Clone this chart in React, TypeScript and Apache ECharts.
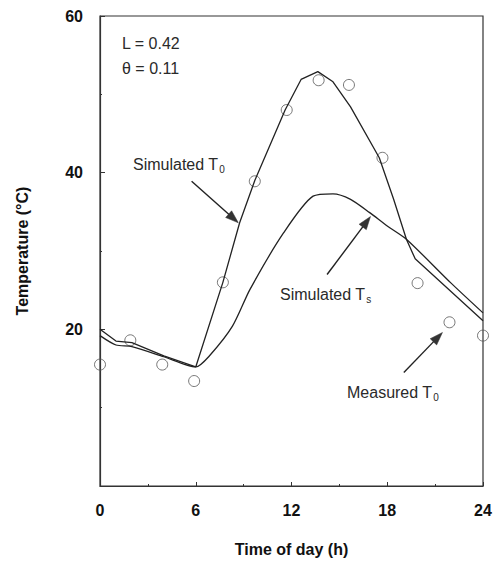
import React, { useEffect, useRef } from "react";
import * as echarts from "echarts";

// Measured T0 (circles)
const measTime = [0, 1.9, 3.9, 5.9, 7.7, 9.7, 11.7, 13.7, 15.6, 17.7, 19.9, 21.9, 24];
const measVal = [15.5, 18.6, 15.5, 13.4, 26.0, 38.9, 48.0, 51.8, 51.2, 41.9, 25.9, 20.9, 19.2];

// Simulated T0
const t0Time = [0, 1, 2, 4, 6, 7.7, 8.75, 9.7, 11.6, 12.6, 13.65, 14.6, 15.7, 17.5, 18.4, 19.2, 19.75, 24];
const t0Val = [20.0, 18.5, 18.3, 16.6, 15.2, 26.0, 33.6, 39.0, 48.0, 51.9, 52.9, 51.6, 48.4, 41.9, 36.6, 31.5, 29.0, 21.1];

// Simulated Ts
const tsTime = [0, 1, 2, 4, 6, 6.85, 8.3, 9.4, 11.5, 13.35, 14.6, 15.7, 16.9, 18, 19.2, 22, 24];
const tsVal = [19.2, 18.0, 17.8, 16.5, 15.2, 16.6, 20.4, 25.1, 32.3, 37.0, 37.3, 36.6, 34.9, 33.2, 31.5, 25.9, 22.1];

// Annotation arrows in data coordinates [fromX, fromY, toX, toY]
const arrows = [
  [5.74, 38.9, 8.67, 33.6],
  [14.23, 27.0, 16.95, 34.4],
  [19.04, 14.5, 21.46, 19.6],
];

const xTicks = [0, 6, 12, 18, 24];
const yTickLabels = [20, 40, 60];

const zip = (a: number[], b: number[]) => a.map((v, i) => [v, b[i]]);

export default function App() {
  const ref = useRef<HTMLDivElement>(null);
  useEffect(() => {
    document.body.style.margin = "0";
    if (!ref.current) return;
    const chart = echarts.init(ref.current, undefined, { renderer: "svg" });
    const font = "'Liberation Sans', Arial, sans-serif";
    const annot = (text: string, sub: string | null, x: number, y: number) => ({
      type: "text",
      left: x,
      top: y,
      style: {
        text: sub ? `{a|${text}}{s|${sub}}` : `{a|${text}}`,
        rich: {
          a: { fontSize: 16, fontFamily: font, fill: "#2a2a2a" },
          s: { fontSize: 10, fontFamily: font, fill: "#2a2a2a", padding: [10, 0, 0, 1] },
        },
      },
    });
    const texts = [
      annot("L = 0.42", null, 122, 35),
      annot("θ = 0.11", null, 122, 60),
      annot("Simulated T", "0", 133, 156),
      annot("Simulated T", "s", 280, 286),
      annot("Measured T", "0", 347, 384),
    ];
    chart.setOption({
      animation: false,
      backgroundColor: "#fff",
      grid: {
        left: 100,
        top: 16,
        right: 12,
        bottom: 75,
        show: true,
        borderColor: "#333",
        borderWidth: 1.2,
      },
      xAxis: {
        type: "value",
        min: 0,
        max: 24,
        interval: 6,
        name: "Time of day (h)",
        nameLocation: "middle",
        nameGap: 55,
        nameTextStyle: { fontSize: 16, fontWeight: "bold", fontFamily: font, color: "#111" },
        axisLine: { lineStyle: { color: "#333", width: 1.2 } },
        axisTick: { inside: true, length: 4, lineStyle: { color: "#333" } },
        minorTick: { show: true, splitNumber: 2, length: 2, lineStyle: { color: "#333" } },
        splitLine: { show: false },
        axisLabel: {
          margin: 16,
          fontSize: 16,
          fontWeight: "bold",
          fontFamily: font,
          color: "#111",
          formatter: (v: number) => (xTicks.includes(v) ? String(v) : ""),
        },
      },
      yAxis: {
        type: "value",
        min: 0,
        max: 60,
        interval: 20,
        name: "Temperature (°C)",
        nameLocation: "middle",
        nameRotate: 90,
        nameGap: 70,
        nameTextStyle: { fontSize: 16, fontWeight: "bold", fontFamily: font, color: "#111" },
        axisLine: { lineStyle: { color: "#333", width: 1.2 } },
        axisTick: { inside: true, length: 5, lineStyle: { color: "#333" } },
        minorTick: { show: true, splitNumber: 2, length: 2, lineStyle: { color: "#333" } },
        splitLine: { show: false },
        axisLabel: {
          margin: 17,
          fontSize: 16,
          fontWeight: "bold",
          fontFamily: font,
          color: "#111",
          formatter: (v: number) => (yTickLabels.includes(v) ? String(v) : ""),
        },
      },
      series: [
        {
          name: "Simulated T0",
          type: "line",
          data: zip(t0Time, t0Val),
          showSymbol: false,
          lineStyle: { color: "#222", width: 1.3 },
          clip: false,
        },
        {
          name: "Simulated Ts",
          type: "line",
          data: zip(tsTime, tsVal),
          showSymbol: false,
          smooth: 0.25,
          lineStyle: { color: "#222", width: 1.3 },
          clip: false,
        },
        {
          name: "Measured T0",
          type: "scatter",
          data: zip(measTime, measVal),
          symbol: "circle",
          symbolSize: 11,
          clip: false,
          itemStyle: { color: "rgba(0,0,0,0)", borderColor: "#555", borderWidth: 1 },
        },
      ],
      graphic: texts,
    });

    // Arrows positioned via the chart's own coordinate conversion
    const arrowEls: any[] = [];
    arrows.forEach((a) => {
      const p1 = chart.convertToPixel({ gridIndex: 0 }, [a[0], a[1]]) as number[];
      const p2 = chart.convertToPixel({ gridIndex: 0 }, [a[2], a[3]]) as number[];
      const dx = p2[0] - p1[0];
      const dy = p2[1] - p1[1];
      const len = Math.sqrt(dx * dx + dy * dy);
      const ux = dx / len;
      const uy = dy / len;
      const headLen = 13;
      const headW = 4.5;
      const bx = p2[0] - ux * headLen;
      const by = p2[1] - uy * headLen;
      arrowEls.push({
        type: "line",
        shape: { x1: p1[0], y1: p1[1], x2: bx + ux * 2, y2: by + uy * 2 },
        style: { stroke: "#222", lineWidth: 1.4 },
        silent: true,
      });
      arrowEls.push({
        type: "polygon",
        shape: {
          points: [
            [p2[0], p2[1]],
            [bx - uy * headW, by + ux * headW],
            [bx + uy * headW, by - ux * headW],
          ],
        },
        style: { fill: "#333", stroke: "#333", lineWidth: 0.5 },
        silent: true,
      });
    });
    chart.setOption({ graphic: [...texts, ...arrowEls] });
    return () => chart.dispose();
  }, []);
  return <div ref={ref} style={{ width: 495, height: 562 }} />;
}
